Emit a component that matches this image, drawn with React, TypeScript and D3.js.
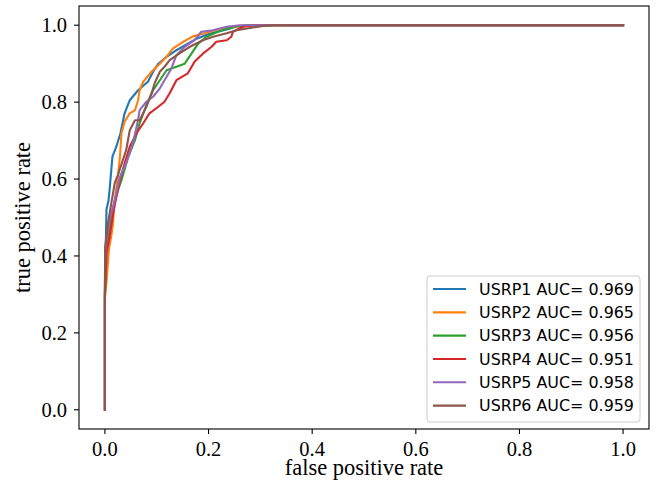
import React from "react";
import * as d3 from "d3";

const labels = ["USRP1 AUC= 0.969", "USRP2 AUC= 0.965", "USRP3 AUC= 0.956", "USRP4 AUC= 0.951", "USRP5 AUC= 0.958", "USRP6 AUC= 0.959"];
const colors = ["#1f77b4", "#ff7f0e", "#2ca02c", "#d62728", "#9467bd", "#8c564b"];
const xTicks = [0, 0.2, 0.4, 0.6, 0.8, 1.0];
const yTicks = [0, 0.2, 0.4, 0.6, 0.8, 1.0];

const fpr1 = [0, 0, 0.003, 0.007, 0.009, 0.0145, 0.022, 0.030, 0.038, 0.048, 0.064, 0.083, 0.093, 0.103, 0.119, 0.138, 0.160, 0.177, 0.202, 0.235, 0.254, 0.28, 1];
const tpr1 = [0, 0.31, 0.52, 0.545, 0.571, 0.658, 0.684, 0.719, 0.771, 0.805, 0.831, 0.853, 0.879, 0.900, 0.918, 0.935, 0.952, 0.965, 0.978, 0.989, 0.997, 1, 1];

const fpr2 = [0, 0, 0.003, 0.008, 0.012, 0.015, 0.019, 0.025, 0.029, 0.032, 0.038, 0.048, 0.058, 0.064, 0.067, 0.074, 0.090, 0.106, 0.119, 0.131, 0.151, 0.170, 0.189, 0.222, 0.273, 1];
const tpr2 = [0, 0.29, 0.33, 0.42, 0.45, 0.476, 0.545, 0.606, 0.658, 0.719, 0.749, 0.771, 0.779, 0.805, 0.831, 0.853, 0.879, 0.900, 0.918, 0.939, 0.957, 0.971, 0.978, 0.991, 1, 1];

const fpr3 = [0, 0, 0.0035, 0.013, 0.02, 0.032, 0.045, 0.058, 0.067, 0.080, 0.093, 0.106, 0.119, 0.138, 0.154, 0.167, 0.180, 0.196, 0.218, 0.247, 0.28, 1];
const tpr3 = [0, 0.3, 0.415, 0.506, 0.55, 0.597, 0.658, 0.701, 0.745, 0.792, 0.831, 0.857, 0.883, 0.892, 0.900, 0.926, 0.952, 0.970, 0.983, 0.996, 1, 1];

const fpr4 = [0, 0, 0.003, 0.009, 0.017, 0.029, 0.038, 0.048, 0.061, 0.074, 0.086, 0.103, 0.115, 0.125, 0.138, 0.160, 0.173, 0.189, 0.206, 0.215, 0.235, 0.244, 0.247, 0.267, 0.289, 1];
const tpr4 = [0, 0.3, 0.407, 0.45, 0.52, 0.597, 0.641, 0.684, 0.719, 0.745, 0.771, 0.788, 0.801, 0.823, 0.857, 0.875, 0.905, 0.926, 0.944, 0.957, 0.961, 0.970, 0.983, 0.996, 1, 1];

const fpr5 = [0, 0, 0.0006, 0.003, 0.009, 0.019, 0.029, 0.041, 0.054, 0.064, 0.067, 0.080, 0.093, 0.106, 0.119, 0.128, 0.138, 0.154, 0.173, 0.186, 0.209, 0.235, 0.26, 1];
const tpr5 = [0, 0.3, 0.415, 0.44, 0.494, 0.545, 0.606, 0.641, 0.693, 0.753, 0.779, 0.801, 0.814, 0.836, 0.866, 0.887, 0.922, 0.944, 0.961, 0.983, 0.987, 0.996, 1, 1];

const fpr6 = [0, 0, 0.0006, 0.006, 0.0125, 0.019, 0.025, 0.041, 0.048, 0.058, 0.067, 0.080, 0.090, 0.096, 0.106, 0.115, 0.125, 0.144, 0.164, 0.189, 0.209, 0.235, 0.254, 0.280, 0.305, 0.328, 1];
const tpr6 = [0, 0.33, 0.424, 0.486, 0.538, 0.59, 0.61, 0.675, 0.727, 0.753, 0.753, 0.788, 0.823, 0.849, 0.879, 0.892, 0.909, 0.927, 0.944, 0.961, 0.970, 0.979, 0.987, 0.993, 0.998, 1, 1];

const fprs = [fpr1, fpr2, fpr3, fpr4, fpr5, fpr6];
const tprs = [tpr1, tpr2, tpr3, tpr4, tpr5, tpr6];

export default function App() {
  const W = 656, H = 491;
  const left = 79, right = 649, top = 6, bottom = 429;
  const x = d3.scaleLinear().domain([-0.05, 1.05]).range([left, right]);
  const y = d3.scaleLinear().domain([-0.05, 1.05]).range([bottom, top]);
  const line = d3.line<[number, number]>().x((d) => x(d[0])).y((d) => y(d[1]));
  const serif = "'Liberation Serif', 'Times New Roman', serif";
  const sans = "'DejaVu Sans', sans-serif";
  const legX = 427, legY = 276, legW = 213, legH = 146;
  const rowY = (i: number) => 289 + i * 23.33;
  return (
    <svg width={W} height={H} style={{ position: "absolute", left: 0, top: 0, background: "#fff" }}>
      <rect x={0} y={0} width={W} height={H} fill="#fff" />
      <g>
        {fprs.map((f, i) => (
          <path
            key={i}
            d={line(f.map((v, j) => [v, tprs[i][j]] as [number, number])) || ""}
            fill="none"
            stroke={colors[i]}
            strokeWidth={2.1}
            strokeLinejoin="round"
            strokeLinecap="square"
          />
        ))}
      </g>
      <rect x={left} y={top} width={right - left} height={bottom - top} fill="none" stroke="#000" strokeWidth={1.1} />
      {xTicks.map((t) => (
        <g key={"x" + t}>
          <line x1={x(t)} x2={x(t)} y1={bottom} y2={bottom + 5} stroke="#000" strokeWidth={1.1} />
          <text x={x(t)} y={456} textAnchor="middle" fontFamily={serif} fontSize={20.5} fill="#000">
            {t.toFixed(1)}
          </text>
        </g>
      ))}
      {yTicks.map((t) => (
        <g key={"y" + t}>
          <line x1={left - 5} x2={left} y1={y(t)} y2={y(t)} stroke="#000" strokeWidth={1.1} />
          <text x={67} y={y(t) + 7} textAnchor="end" fontFamily={serif} fontSize={20.5} fill="#000">
            {t.toFixed(1)}
          </text>
        </g>
      ))}
      <text x={(left + right) / 2} y={475} textAnchor="middle" fontFamily={serif} fontSize={22.5} fill="#000">
        false positive rate
      </text>
      <text
        transform={`translate(30, ${(top + bottom) / 2}) rotate(-90)`}
        textAnchor="middle"
        fontFamily={serif}
        fontSize={22.5}
        fill="#000"
      >
        true positive rate
      </text>
      <rect x={legX} y={legY} width={legW} height={legH} rx={3} ry={3} fill="#fff" fillOpacity={0.8} stroke="#cccccc" strokeWidth={1} />
      {labels.map((l, i) => (
        <g key={l}>
          <line x1={433} x2={466} y1={rowY(i)} y2={rowY(i)} stroke={colors[i]} strokeWidth={2.1} />
          <text x={479} y={rowY(i) + 5.8} fontFamily={sans} fontSize={15.9} fill="#000">
            {l}
          </text>
        </g>
      ))}
    </svg>
  );
}
